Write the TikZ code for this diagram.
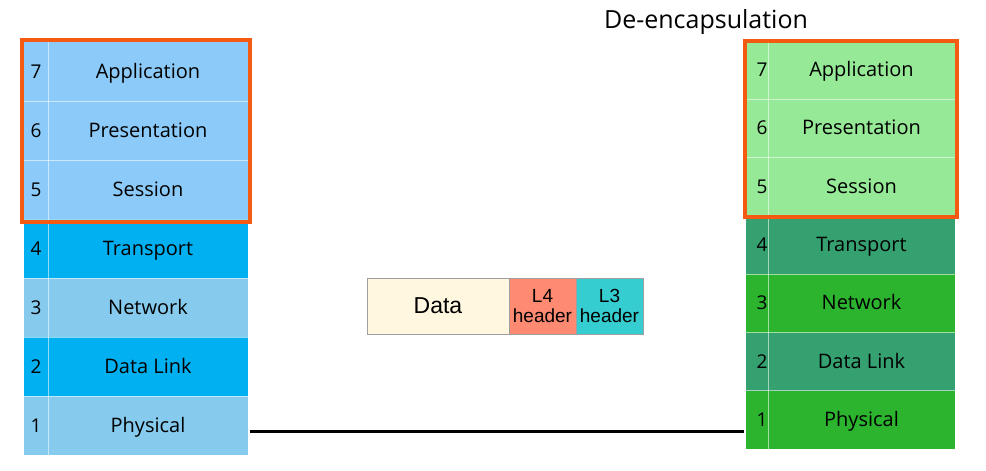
\documentclass[tikz,border=0pt]{standalone}
\usepackage{fontspec}
\setmainfont{Open Sans}
\newfontfamily\arialf{Liberation Sans}
\definecolor{lbA}{HTML}{8CCBF9}
\definecolor{lbB}{HTML}{00B0F0}
\definecolor{lbC}{HTML}{86CAED}
\definecolor{rgA}{HTML}{96E996}
\definecolor{rgB}{HTML}{36A170}
\definecolor{rgC}{HTML}{2CB42F}
\definecolor{orangeF}{HTML}{F55A12}
\definecolor{dataF}{HTML}{FFF7DF}
\definecolor{lfourF}{HTML}{FF8A72}
\definecolor{lthreeF}{HTML}{36CDD0}
\tikzset{
  cell/.style={draw=none, inner sep=0pt, outer sep=0pt, anchor=north west, text=black, text height=13pt, text depth=-2pt},
  lbl/.style={cell, font=\fontsize{20}{22}\selectfont},
  num/.style={cell, font=\fontsize{19}{20}\selectfont},
  sepline/.style={draw=white, line width=0.8pt, opacity=0.55},
  frame/.style={draw=orangeF, line width=3.5pt},
  pkt/.style={draw=gray!75, line width=0.8pt, inner sep=0pt, outer sep=0pt, anchor=north west, minimum height=56},
  wire/.style={draw=black, line width=3pt}
}
\begin{document}
\begin{tikzpicture}[x=1pt,y=-1pt]
\useasboundingbox[fill=white] (0,0) rectangle (986,471);
% title
\node[anchor=base, font=\fontsize{25}{28}\selectfont, inner sep=0pt] (title) at (706,28) {De-encapsulation};
% left stack
\foreach \n/\t/\c [count=\i from 0] in {7/Application/lbA,6/Presentation/lbA,5/Session/lbA,4/Transport/lbB,3/Network/lbC,2/Data Link/lbB,1/Physical/lbC} {
  \node[num, fill=\c, minimum width=24, minimum height=59] (Ln\n) at (24,{42+59*\i}) {\n};
  \node[lbl, fill=\c, minimum width=200, minimum height=59] (L\n) at (48,{42+59*\i}) {\t};
}
\foreach \i in {1,...,6} \draw[sepline] (24,{42+59*\i}) -- (248,{42+59*\i});
\draw[sepline] (48,42) -- (48,455);
\draw[frame] (22,40) rectangle (250,222);
% right stack
\foreach \n/\t/\c [count=\i from 0] in {7/Application/rgA,6/Presentation/rgA,5/Session/rgA,4/Transport/rgB,3/Network/rgC,2/Data Link/rgB,1/Physical/rgC} {
  \node[num, fill=\c, minimum width=22, minimum height=58.3, text width=21pt, align=right] (Rn\n) at (746,{41+58.3*\i}) {\n};
  \node[lbl, fill=\c, minimum width=187, minimum height=58.3] (R\n) at (768,{41+58.3*\i}) {\t};
}
\foreach \i in {1,...,6} \draw[sepline] (746,{41+58.3*\i}) -- (955,{41+58.3*\i});
\draw[sepline] (768,41) -- (768,449);
\draw[frame] (745,41) rectangle (957,217);
% packet
\node[pkt, fill=dataF, minimum width=142, font=\arialf\fontsize{23}{26}\selectfont] (data) at (367,278) {Data};
\node[pkt, fill=lfourF, minimum width=67, align=center, font=\arialf\fontsize{19}{20}\selectfont] (lfour) at (509,278) {L4\\header};
\node[pkt, fill=lthreeF, minimum width=67, align=center, font=\arialf\fontsize{19}{20}\selectfont] (lthree) at (576,278) {L3\\header};
% wire
\coordinate (wa) at (250,431);
\coordinate (wb) at (744,431);
\draw[wire] (wa) -- (wb);
\end{tikzpicture}
\end{document}
